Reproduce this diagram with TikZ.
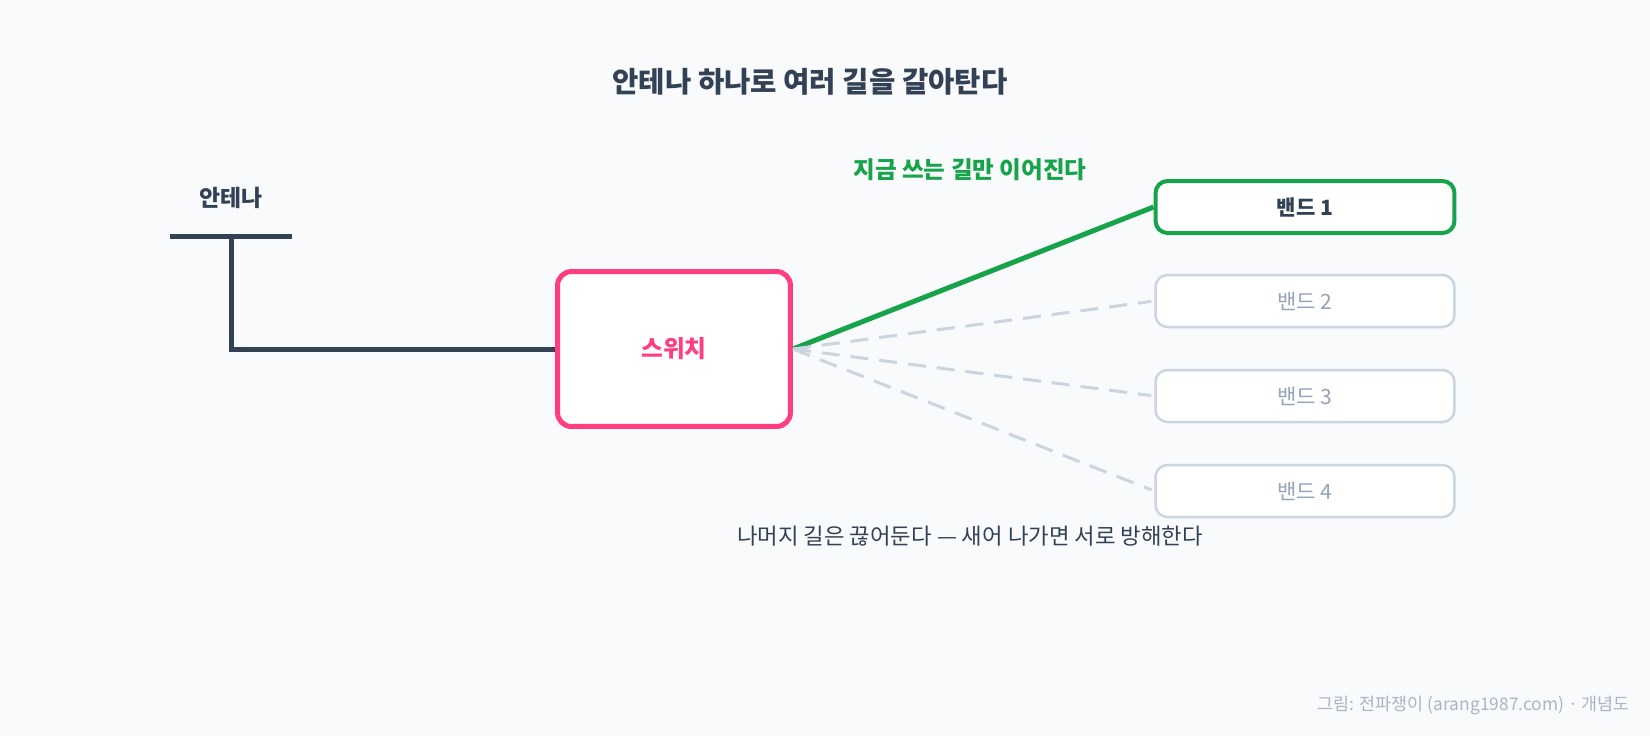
\documentclass[tikz,border=0pt]{standalone}
\usepackage{fontspec}
\setmainfont{Noto Sans CJK KR}
\usetikzlibrary{positioning}
\definecolor{ink}{HTML}{334155}
\definecolor{bgpaper}{HTML}{F8FAFC}
\definecolor{swpink}{HTML}{FF3D7F}
\definecolor{ongreen}{HTML}{16A34A}
\definecolor{offline}{HTML}{CBD5E1}
\definecolor{offtext}{HTML}{94A3B8}

\begin{document}
\begin{tikzpicture}[x=0.02cm,y=-0.02cm,
    bandbox/.style={draw=offline,fill=white,line width=0.05cm,rounded corners=0.24cm,
      minimum width=5.98cm,minimum height=1.04cm,text=offtext,
      font=\fontsize{12}{14}\selectfont},
    onbox/.style={bandbox,draw=ongreen,line width=0.08cm,text=ink,
      font=\fontsize{12}{14}\selectfont\bfseries},
    offpath/.style={draw=offline,line width=0.06cm,dash pattern=on 0.36cm off 0.22cm,
      shorten >=0.06cm},
    antline/.style={draw=ink,line width=0.1cm}]

    % 배경
    \fill[bgpaper] (0,0) rectangle (1650,735);

    % 제목
    \node[text=ink,font=\fontsize{16.3}{19}\selectfont\bfseries] (title) at (810,82)
      {안테나 하나로 여러 길을 갈아탄다};

    % 안테나
    \node[text=ink,font=\fontsize{13}{15}\selectfont\bfseries] (antlabel) at (231,198) {안테나};
    \draw[antline] (170,236) -- (292,236);
    \coordinate (feed) at (231,236);

    % 스위치
    \node[draw=swpink,fill=white,line width=0.1cm,rounded corners=0.28cm,
      minimum width=4.66cm,minimum height=3.1cm,text=swpink,
      font=\fontsize{13.5}{16}\selectfont\bfseries] (sw) at (674,349) {스위치};
    \draw[antline] (feed) |- (sw.west);

    % 밴드
    \node[onbox] (b1) at (1305,207) {밴드 1};
    \foreach \i/\y in {2/301, 3/396, 4/491}
      \node[bandbox] (b\i) at (1305,\y) {밴드 \i};

    % 연결선: 쓰는 길(실선), 끊긴 길(파선)
    \draw[ongreen,line width=0.1cm] (sw.east) -- (b1.west);
    \foreach \i in {2,3,4}
      \draw[offpath] (sw.east) -- (b\i.west);

    % 설명 글
    \node[text=ongreen,font=\fontsize{13.4}{16}\selectfont\bfseries] (onnote) at (970,170)
      {지금 쓰는 길만 이어진다};
    \node[text=ink,font=\fontsize{12.7}{15}\selectfont] (offnote) at (970,536)
      {나머지 길은 끊어둔다 — 새어 나가면 서로 방해한다};

    % 출처
    \node[text=offtext!80,font=\fontsize{9.9}{12}\selectfont,anchor=east] (credit) at (1636,705)
      {그림: 전파쟁이 (arang1987.com) · 개념도};
\end{tikzpicture}
\end{document}
